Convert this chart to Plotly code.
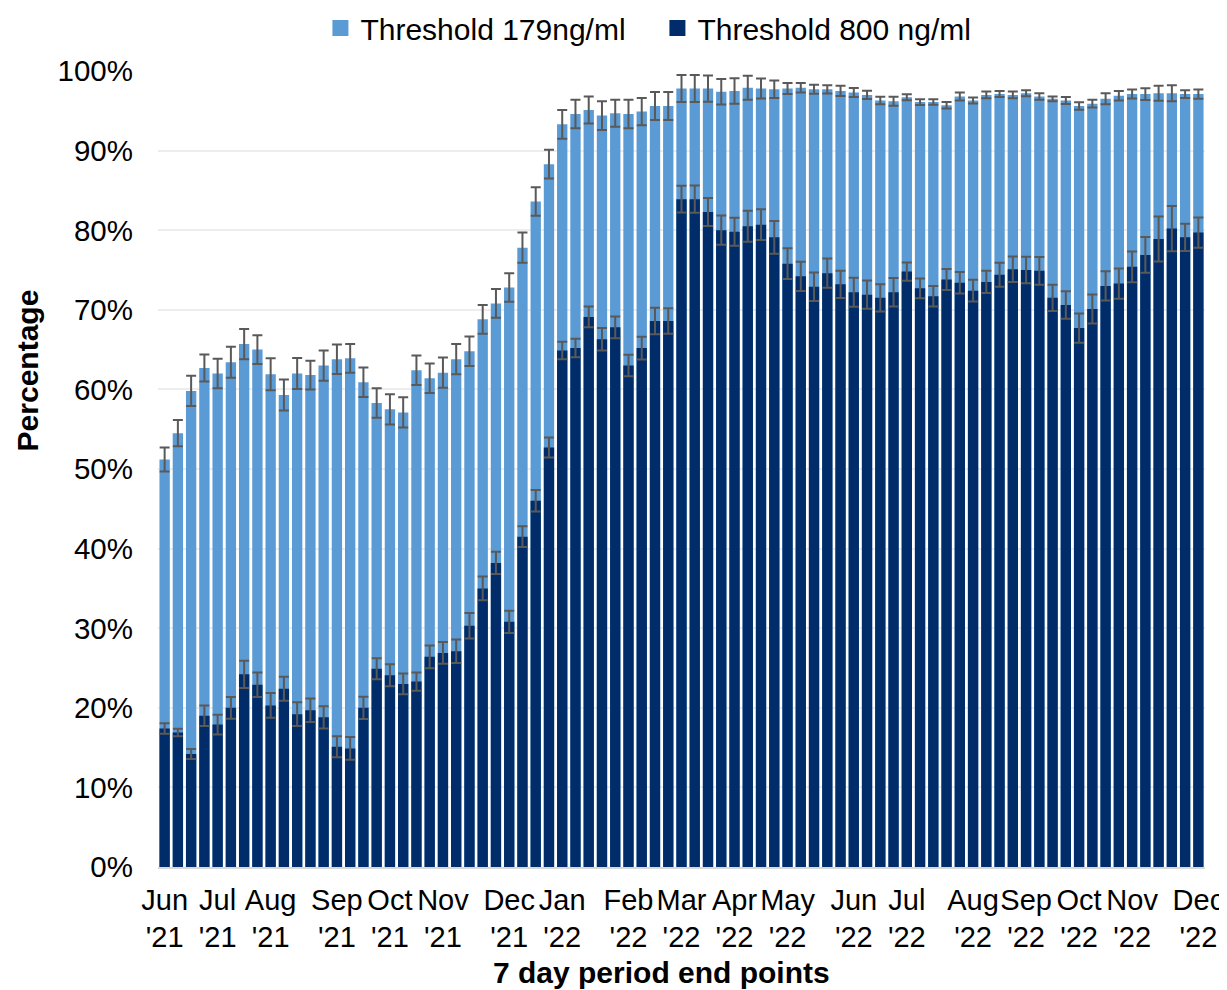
import plotly.graph_objects as go

# bar index of each weekly period (79 periods, Jun '21 - Dec '22)
n_periods = 79
periods = list(range(n_periods))

# Threshold 179 ng/ml (%)
pct_179 = [51.2, 54.5, 59.8, 62.7, 62.0, 63.4, 65.7, 65.0, 61.9, 59.3,
           62.0, 61.8, 63.0, 63.8, 63.9, 60.9, 58.3, 57.5, 57.1, 62.4,
           61.4, 62.1, 63.8, 64.8, 68.8, 70.8, 72.8, 77.8, 83.6, 88.3,
           93.3, 94.6, 95.1, 94.4, 94.7, 94.6, 94.9, 95.6, 95.6, 97.8,
           97.8, 97.8, 97.4, 97.5, 97.9, 97.8, 97.7, 97.8, 97.9, 97.7,
           97.7, 97.5, 97.3, 97.0, 96.3, 96.2, 96.7, 96.1, 96.1, 95.7,
           96.8, 96.3, 97.0, 97.1, 97.0, 97.2, 96.8, 96.5, 96.3, 95.6,
           95.9, 96.5, 96.9, 97.1, 97.1, 97.2, 97.2, 97.1, 97.1]
err_179 = [1.5, 1.65, 1.9, 1.7, 1.85, 1.95, 1.9, 1.8, 2.0, 1.95,
           1.95, 1.8, 1.9, 1.85, 1.8, 1.85, 1.85, 1.9, 1.9, 1.85,
           1.85, 1.9, 1.9, 1.85, 1.8, 1.8, 1.8, 1.9, 1.8, 1.8,
           1.8, 1.8, 1.7, 1.8, 1.7, 1.8, 1.7, 1.75, 1.75, 1.7,
           1.7, 1.65, 1.6, 1.6, 1.5, 1.25, 1.1, 0.7, 0.6, 0.57,
           0.52, 0.65, 0.57, 0.52, 0.48, 0.57, 0.38, 0.36, 0.34, 0.4,
           0.5, 0.38, 0.42, 0.38, 0.42, 0.38, 0.42, 0.31, 0.44, 0.48,
           0.48, 0.69, 0.6, 0.57, 0.73, 0.94, 1.0, 0.48, 0.59]

# Threshold 800 ng/ml (%)
pct_800 = [17.4, 16.9, 14.2, 19.0, 17.9, 20.0, 24.2, 22.9, 20.3, 22.4,
           19.2, 19.7, 18.8, 15.1, 14.9, 20.0, 24.9, 24.1, 23.0, 23.3,
           26.4, 26.9, 27.1, 30.3, 35.0, 38.2, 30.8, 41.5, 46.0, 52.7,
           64.9, 65.2, 69.1, 66.3, 67.8, 63.0, 65.2, 68.6, 68.6, 83.9,
           83.9, 82.3, 80.0, 79.8, 80.5, 80.7, 79.1, 75.8, 74.2, 72.9,
           74.6, 73.2, 72.2, 71.9, 71.5, 72.2, 74.8, 72.7, 71.7, 73.8,
           73.4, 72.4, 73.5, 74.4, 75.1, 75.0, 74.9, 71.5, 70.6, 67.7,
           70.1, 73.0, 73.3, 75.4, 76.9, 78.9, 80.2, 79.1, 79.7]
err_800 = [0.67, 0.48, 0.63, 1.3, 1.24, 1.36, 1.72, 1.53, 1.55, 1.5,
           1.5, 1.47, 1.4, 1.32, 1.43, 1.4, 1.32, 1.38, 1.3, 1.15,
           1.43, 1.36, 1.47, 1.6, 1.5, 1.4, 1.4, 1.3, 1.35, 1.25,
           1.1, 1.15, 1.3, 1.4, 1.36, 1.34, 1.43, 1.66, 1.6, 1.68,
           1.72, 1.76, 1.84, 1.76, 1.95, 1.93, 2.05, 1.93, 1.84, 1.78,
           1.84, 1.72, 1.82, 1.78, 1.72, 1.78, 1.15, 1.24, 1.3, 1.32,
           1.36, 1.36, 1.4, 1.5, 1.6, 1.68, 1.74, 1.66, 1.74, 1.84,
           1.82, 1.84, 1.9, 1.93, 2.26, 2.83, 2.85, 1.7, 1.9]

# month labels and the period they sit under
tick_periods = [0, 4, 8, 13, 17, 21, 26, 30, 35, 39, 43, 47, 52, 56, 61, 65, 69, 73, 78]
tick_labels = ["Jun<br>'21", "Jul<br>'21", "Aug<br>'21", "Sep<br>'21", "Oct<br>'21",
               "Nov<br>'21", "Dec<br>'21", "Jan<br>'22", "Feb<br>'22", "Mar<br>'22",
               "Apr<br>'22", "May<br>'22", "Jun<br>'22", "Jul<br>'22", "Aug<br>'22",
               "Sep<br>'22", "Oct<br>'22", "Nov<br>'22", "Dec<br>'22"]
y_ticks = [0, 10, 20, 30, 40, 50, 60, 70, 80, 90, 100]

FONT = "Liberation Sans, Arial, sans-serif"
LIGHT = "#5B9BD5"
DARK = "#002D69"
ERR = "#595959"

fig = go.Figure()
fig.add_trace(go.Bar(
    x=periods, y=pct_179, name="Threshold 179ng/ml", showlegend=False,
    marker=dict(color=LIGHT, line=dict(width=0)),
    error_y=dict(type="data", array=err_179, color=ERR, thickness=2, width=5),
))
fig.add_trace(go.Bar(
    x=periods, y=pct_800, name="Threshold 800 ng/ml", showlegend=False,
    marker=dict(color=DARK, line=dict(width=0)),
    error_y=dict(type="data", array=err_800, color=ERR, thickness=2, width=5),
))
# legend entries with larger square swatches
for name, col in [("Threshold 179ng/ml", LIGHT), ("Threshold 800 ng/ml", DARK)]:
    fig.add_trace(go.Scatter(x=[None], y=[None], mode="markers", name=name,
                             marker=dict(symbol="square", size=16, color=col)))

fig.update_layout(
    width=1219, height=982,
    margin=dict(l=150, r=22, t=63, b=123, autoexpand=False),
    barmode="overlay", bargap=0.22,
    plot_bgcolor="white", paper_bgcolor="white",
    font=dict(family=FONT, size=29, color="black"),
    showlegend=True,
    legend=dict(orientation="h", x=0.477, xanchor="center", y=1.054, yanchor="middle",
                font=dict(size=30), itemsizing="trace", traceorder="normal",
                entrywidth=292, entrywidthmode="pixels",
                bgcolor="rgba(0,0,0,0)"),
    xaxis=dict(range=[-0.5, n_periods - 0.5], tickmode="array",
               tickvals=tick_periods, ticktext=tick_labels, showgrid=False,
               zeroline=False, showline=True, linecolor="#D9D9D9", linewidth=1.5,
               ticks="", tickfont=dict(size=29), tickangle=0, ticklabelstandoff=6),
    yaxis=dict(range=[0, 100], tickmode="array", tickvals=y_ticks,
               ticktext=[f"{v}%" for v in y_ticks], showgrid=True,
               gridcolor="#EDEDED", gridwidth=1.5, zeroline=False,
               showline=False, ticks="", tickfont=dict(size=29.5),
               ticklabelstandoff=24),
    annotations=[
        dict(text="<b>Percentage</b>", textangle=-90, xref="paper", yref="paper",
             x=-0.125, y=0.624, xanchor="center", yanchor="middle",
             showarrow=False, font=dict(size=30)),
        dict(text="<b>7 day period end points</b>", xref="paper", yref="paper",
             x=0.481, y=-0.1326, xanchor="center", yanchor="middle",
             showarrow=False, font=dict(size=30)),
    ],
)

fig.write_html("out.html")
